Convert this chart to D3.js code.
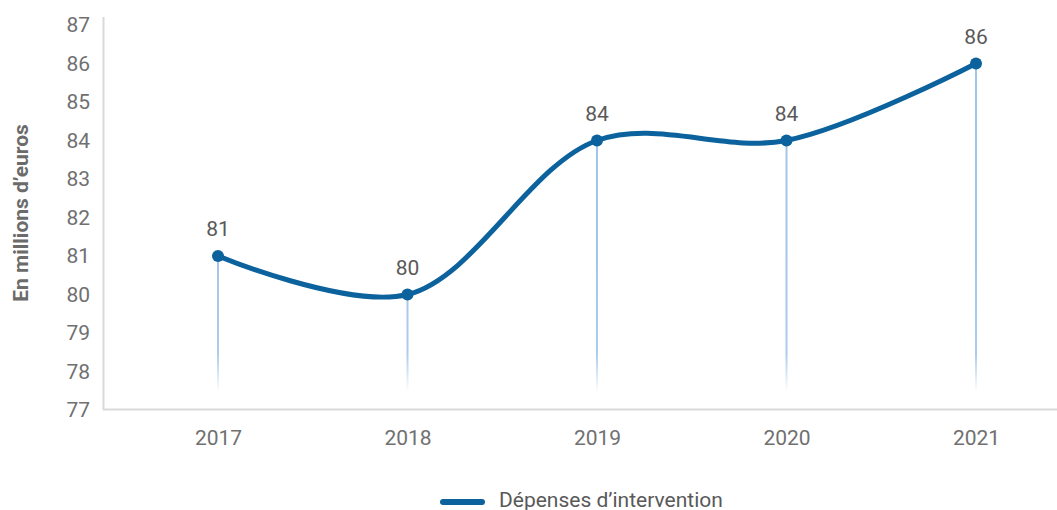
<!DOCTYPE html>
<html>
<head>
<meta charset="utf-8">
<script src="https://cdn.jsdelivr.net/npm/d3@7"></script>
<style>
  body { margin: 0; background: #fff; }
  svg text { font-family: Roboto, "Noto Sans", sans-serif; }
</style>
</head>
<body>
<svg width="1057" height="510"></svg>
<script>
// chart data
var years = ["2017", "2018", "2019", "2020", "2021"];
var values = [81, 80, 84, 84, 86];
var yTicks = [77, 78, 79, 80, 81, 82, 83, 84, 85, 86, 87];
var seriesName = "Dépenses d’intervention";
var yTitle = "En millions d’euros";

var svg = d3.select("svg"),
    width = +svg.attr("width"),
    height = +svg.attr("height");

var lineColor = "#0b629d";

var x = d3.scalePoint()
    .domain(years)
    .range([218, 976]);

var y = d3.scaleLinear()
    .domain([77, 87])
    .range([410, 25]);

// gradient for the drop lines
var defs = svg.append("defs");
var grad = defs.append("linearGradient")
    .attr("id", "dropGrad")
    .attr("gradientUnits", "userSpaceOnUse")
    .attr("x1", 0).attr("x2", 0)
    .attr("y1", y(81)).attr("y2", 392);
grad.append("stop").attr("offset", "0%").attr("stop-color", "#a2c6ea").attr("stop-opacity", 1);
grad.append("stop").attr("offset", "72%").attr("stop-color", "#a2c6ea").attr("stop-opacity", 0.9);
grad.append("stop").attr("offset", "100%").attr("stop-color", "#a2c6ea").attr("stop-opacity", 0);

// axes
var yAxis = svg.append("g")
    .attr("transform", "translate(103,0)")
    .call(d3.axisLeft(y).tickValues(yTicks).tickSize(0).tickPadding(13));
yAxis.select(".domain").remove();
yAxis.selectAll("text")
    .attr("fill", "#707070")
    .style("font-size", "21px");

svg.append("line")
    .attr("x1", 103.5).attr("x2", 103.5)
    .attr("y1", 17).attr("y2", 410)
    .attr("stroke", "#d9d9d9")
    .attr("stroke-width", 2);

var xAxis = svg.append("g")
    .attr("transform", "translate(0,410)")
    .call(d3.axisBottom(x).tickSize(0).tickPadding(20));
xAxis.select(".domain").remove();
xAxis.selectAll("text")
    .attr("fill", "#707070")
    .style("font-size", "21px");

svg.append("line")
    .attr("x1", 103).attr("x2", width)
    .attr("y1", 409.5).attr("y2", 409.5)
    .attr("stroke", "#d9d9d9")
    .attr("stroke-width", 2);

// y axis title
svg.append("text")
    .attr("transform", "translate(21,213) rotate(-90)")
    .attr("dy", "0.35em")
    .attr("text-anchor", "middle")
    .attr("fill", "#6b6b6b")
    .style("font-size", "21px")
    .style("font-weight", "bold")
    .text(yTitle);

var data = years.map(function(d, i) { return { year: d, value: values[i] }; });

// drop lines
svg.append("g")
  .selectAll("rect")
  .data(data)
  .enter().append("rect")
    .attr("x", function(d) { return x(d.year) - 1; })
    .attr("width", 2)
    .attr("y", function(d) { return y(d.value); })
    .attr("height", function(d) { return 392 - y(d.value); })
    .attr("fill", "url(#dropGrad)");

// the line
var line = d3.line()
    .x(function(d) { return x(d.year); })
    .y(function(d) { return y(d.value); })
    .curve(d3.curveCatmullRom.alpha(0.5));

svg.append("path")
    .datum(data)
    .attr("d", line)
    .attr("fill", "none")
    .attr("stroke", lineColor)
    .attr("stroke-width", 5)
    .attr("stroke-linecap", "round");

svg.append("g")
  .selectAll("circle")
  .data(data)
  .enter().append("circle")
    .attr("cx", function(d) { return x(d.year); })
    .attr("cy", function(d) { return y(d.value); })
    .attr("r", 6)
    .attr("fill", lineColor);

// value labels
svg.append("g")
  .selectAll("text")
  .data(data)
  .enter().append("text")
    .attr("x", function(d) { return x(d.year); })
    .attr("y", function(d) { return y(d.value) - 20; })
    .attr("text-anchor", "middle")
    .attr("fill", "#595959")
    .style("font-size", "21px")
    .text(function(d) { return d.value; });

// legend
var legend = svg.append("g");
legend.append("line")
    .attr("x1", 443).attr("x2", 482)
    .attr("y1", 502).attr("y2", 502)
    .attr("stroke", lineColor)
    .attr("stroke-width", 6)
    .attr("stroke-linecap", "round");
legend.append("text")
    .attr("x", 499)
    .attr("y", 507)
    .attr("fill", "#595959")
    .style("font-size", "21px")
    .text(seriesName);
</script>
</body>
</html>
